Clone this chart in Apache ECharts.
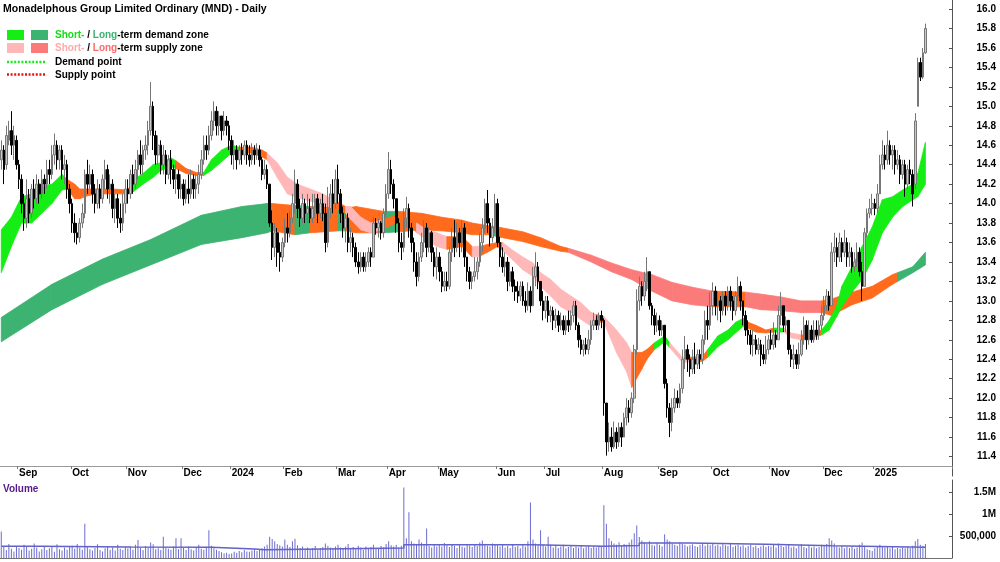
<!DOCTYPE html>
<html><head><meta charset="utf-8">
<script src="https://cdn.jsdelivr.net/npm/echarts/dist/echarts.min.js"></script>
<style>html,body{margin:0;padding:0;background:#fff}#c{width:1000px;height:562px}</style>
</head><body><div id="c"></div>
<script>
// ---------- DATA ----------
const monthLabels = ['', 'Sep','Oct','Nov','Dec','2024','Feb','Mar','Apr','May','Jun','Jul','Aug','Sep','Oct','Nov','Dec','2025'];
const monthCounts = [7,21,22,22,19,21,21,20,20,23,19,23,22,21,23,21,20,21];

// [open, close, low, high]
const candles = [
// Aug 2023
[14.45,14.55,14.35,14.65],[14.55,14.35,14.2,14.6],[14.4,14.7,14.35,14.8],[14.65,14.75,14.6,14.85],[14.75,14.6,14.5,14.95],[14.6,14.7,14.45,14.8],[14.65,14.4,14.35,14.7],
// Sep
[14.4,14.25,14.15,14.45],[14.25,14.0,13.9,14.3],[14.0,13.85,13.72,14.1],[13.85,14.05,13.75,14.25],[14.05,13.9,13.8,14.15],[13.9,14.15,13.85,14.2],[14.15,14.05,13.95,14.25],[14.05,14.2,14.0,14.3],[14.2,14.1,14.0,14.25],[14.1,14.25,14.05,14.35],[14.25,14.2,14.1,14.3],[14.2,14.35,14.15,14.45],[14.35,14.3,14.2,14.45],[14.3,14.5,14.25,14.6],[14.5,14.6,14.4,14.72],[14.6,14.45,14.35,14.65],[14.45,14.55,14.35,14.6],[14.55,14.35,14.25,14.6],[14.35,14.4,14.2,14.5],[14.4,14.15,14.05,14.45],[14.15,14.0,13.9,14.2],
// Oct
[14.0,13.8,13.7,14.05],[13.8,13.7,13.6,13.9],[13.7,13.65,13.58,13.8],[13.65,13.8,13.6,13.85],[13.8,13.9,13.75,14.0],[13.9,14.3,13.85,14.35],[14.3,14.2,14.1,14.45],[14.2,14.3,14.15,14.4],[14.3,14.1,14.0,14.35],[14.1,14.0,13.9,14.2],[14.0,14.15,13.95,14.25],[14.15,14.05,13.95,14.2],[14.05,14.25,14.0,14.3],[14.25,14.35,14.15,14.45],[14.35,14.15,14.05,14.4],[14.15,14.2,14.0,14.3],[14.2,13.95,13.85,14.25],[13.95,14.05,13.8,14.1],[14.05,13.85,13.75,14.1],[13.85,13.8,13.7,14.0],[13.8,14.0,13.72,14.1],[14.0,14.15,13.9,14.25],
// Nov
[14.15,14.1,14.0,14.25],[14.1,14.3,14.05,14.35],[14.3,14.2,14.1,14.4],[14.2,14.35,14.15,14.45],[14.35,14.5,14.25,14.55],[14.5,14.4,14.3,14.65],[14.4,14.55,14.3,14.6],[14.55,14.6,14.45,14.7],[14.6,14.75,14.5,14.85],[14.75,15.0,14.7,15.25],[15.0,14.7,14.55,15.05],[14.7,14.5,14.4,14.75],[14.5,14.6,14.4,14.7],[14.6,14.4,14.3,14.65],[14.4,14.5,14.3,14.6],[14.5,14.3,14.2,14.55],[14.3,14.45,14.25,14.5],[14.45,14.35,14.2,14.55],[14.35,14.25,14.15,14.4],[14.25,14.3,14.1,14.4],[14.3,14.15,14.05,14.35],[14.15,14.2,14.05,14.3],
// Dec
[14.2,14.05,13.98,14.25],[14.05,14.15,14.0,14.25],[14.15,14.1,14.0,14.3],[14.1,14.25,14.05,14.35],[14.25,14.15,14.05,14.3],[14.15,14.2,14.05,14.3],[14.2,14.3,14.1,14.4],[14.3,14.45,14.25,14.55],[14.45,14.6,14.4,14.7],[14.6,14.55,14.45,14.7],[14.55,14.7,14.5,14.8],[14.7,14.85,14.65,14.95],[14.85,14.95,14.75,15.05],[14.95,14.8,14.7,15.0],[14.8,14.9,14.7,14.95],[14.9,14.75,14.65,14.9],[14.75,14.85,14.7,14.95],[14.85,14.8,14.7,14.9],[14.8,14.65,14.55,14.85],
// Jan 2024
[14.65,14.5,14.4,14.7],[14.5,14.55,14.35,14.65],[14.55,14.45,14.35,14.6],[14.45,14.55,14.4,14.6],[14.55,14.5,14.4,14.62],[14.5,14.6,14.45,14.65],[14.6,14.5,14.4,14.65],[14.5,14.45,14.38,14.6],[14.45,14.55,14.4,14.62],[14.55,14.5,14.4,14.6],[14.5,14.55,14.45,14.62],[14.55,14.45,14.38,14.6],[14.45,14.3,14.24,14.48],[14.3,14.35,14.25,14.45],[14.35,14.2,14.15,14.4],[14.2,13.8,13.76,14.2],[13.8,13.55,13.42,13.93],[13.55,13.7,13.45,13.8],[13.7,13.5,13.35,13.75],[13.5,13.45,13.3,13.6],[13.45,13.6,13.4,13.65],
// Feb
[13.6,13.75,13.55,13.85],[13.75,13.7,13.6,13.9],[13.7,13.85,13.65,13.93],[13.85,14.0,13.8,14.1],[14.0,14.2,13.9,14.35],[14.2,13.95,13.85,14.25],[13.95,13.85,13.76,14.05],[13.85,14.0,13.8,14.1],[14.0,13.9,13.8,14.05],[13.9,13.95,13.8,14.1],[13.95,13.85,13.8,14.05],[13.85,13.95,13.8,14.1],[13.95,14.05,13.85,14.1],[14.05,13.9,13.8,14.1],[13.9,14.0,13.85,14.05],[14.0,13.9,13.82,14.1],[13.9,13.6,13.5,14.0],[13.6,13.95,13.55,14.17],[13.95,14.1,13.85,14.2],[14.1,14.0,13.9,14.25],[14.0,14.25,13.95,14.35],
// Mar
[14.25,14.1,14.0,14.4],[14.1,13.9,13.8,14.15],[13.9,13.75,13.65,13.97],[13.75,13.85,13.6,13.9],[13.85,13.6,13.5,13.9],[13.6,13.65,13.5,13.75],[13.65,13.55,13.45,13.7],[13.55,13.4,13.35,13.6],[13.4,13.35,13.28,13.5],[13.35,13.45,13.3,13.5],[13.45,13.35,13.3,13.5],[13.35,13.4,13.3,13.5],[13.4,13.5,13.35,13.55],[13.5,13.45,13.35,13.55],[13.45,13.8,13.45,13.86],[13.8,13.75,13.68,13.85],[13.75,13.8,13.65,13.85],[13.8,13.7,13.63,13.82],[13.7,13.9,13.65,13.95],[13.9,14.1,13.85,14.2],
// Apr
[14.1,14.35,14.05,14.53],[14.35,14.2,14.1,14.45],[14.2,14.05,13.95,14.25],[14.05,13.8,13.7,14.05],[13.8,13.6,13.5,13.85],[13.6,13.55,13.42,13.7],[13.55,13.85,13.5,13.95],[13.85,13.95,13.75,14.07],[13.95,13.75,13.65,14.0],[13.75,13.6,13.5,13.8],[13.6,13.4,13.3,13.65],[13.4,13.25,13.15,13.5],[13.25,13.45,13.2,13.5],[13.45,13.6,13.4,13.7],[13.6,13.75,13.5,13.83],[13.75,13.55,13.45,13.8],[13.55,13.7,13.5,13.75],[13.7,13.5,13.4,13.72],[13.5,13.35,13.25,13.55],[13.35,13.45,13.22,13.55],
// May
[13.45,13.3,13.2,13.5],[13.3,13.15,13.09,13.35],[13.15,13.2,13.1,13.3],[13.2,13.15,13.1,13.3],[13.15,13.5,13.12,13.55],[13.5,13.65,13.4,13.75],[13.65,13.55,13.45,13.83],[13.55,13.7,13.5,13.8],[13.7,13.6,13.45,13.75],[13.6,13.75,13.5,13.83],[13.75,13.45,13.35,13.8],[13.45,13.3,13.2,13.45],[13.3,13.2,13.12,13.35],[13.2,13.25,13.12,13.3],[13.25,13.3,13.2,13.45],[13.3,13.4,13.22,13.45],[13.4,13.6,13.35,13.7],[13.6,13.75,13.5,13.85],[13.75,14.0,13.7,14.05],[14.0,13.8,13.7,14.14],[13.8,13.65,13.56,13.85],[13.65,13.75,13.6,13.85],[13.75,14.0,13.7,14.1],
// Jun
[14.0,13.6,13.55,14.05],[13.6,13.45,13.35,13.66],[13.45,13.35,13.29,13.55],[13.35,13.4,13.25,13.5],[13.4,13.2,13.1,13.45],[13.2,13.3,13.15,13.4],[13.3,13.15,13.09,13.35],[13.15,13.1,13.0,13.22],[13.1,13.05,12.98,13.2],[13.05,13.15,13.0,13.2],[13.15,13.0,12.95,13.2],[13.0,12.95,12.88,13.1],[12.95,13.1,12.9,13.19],[13.1,12.95,12.88,13.15],[12.95,13.25,12.95,13.35],[13.25,13.35,13.15,13.5],[13.35,13.2,13.12,13.4],[13.2,13.0,12.95,13.2],[13.0,12.9,12.8,13.1],
// Jul
[12.9,13.0,12.82,13.05],[13.0,12.85,12.78,13.05],[12.85,12.9,12.78,12.95],[12.9,12.8,12.7,12.94],[12.8,12.85,12.72,12.92],[12.85,12.75,12.68,12.9],[12.75,12.8,12.7,12.88],[12.8,12.7,12.65,12.85],[12.7,12.8,12.65,12.85],[12.8,12.75,12.68,12.9],[12.75,12.85,12.7,12.9],[12.85,12.95,12.78,13.0],[12.95,12.75,12.7,13.0],[12.75,12.6,12.52,12.78],[12.6,12.5,12.45,12.65],[12.5,12.55,12.43,12.6],[12.55,12.5,12.45,12.62],[12.5,12.6,12.45,12.7],[12.6,12.75,12.55,12.8],[12.75,12.8,12.7,12.88],[12.8,12.75,12.7,12.85],[12.75,12.85,12.7,12.88],[12.85,12.8,12.72,12.9],
// Aug
[12.8,11.95,11.82,12.82],[11.95,11.55,11.41,11.95],[11.55,11.6,11.45,11.75],[11.6,11.5,11.45,11.7],[11.5,11.65,11.48,11.76],[11.65,11.55,11.48,11.7],[11.55,11.7,11.5,11.75],[11.7,11.6,11.5,11.75],[11.6,11.8,11.6,11.85],[11.8,11.9,11.72,12.0],[11.9,11.85,11.75,11.98],[11.85,12.0,11.8,12.06],[12.0,12.5,11.95,12.55],[12.5,13.0,12.45,13.12],[13.0,13.15,12.9,13.25],[13.15,13.05,12.95,13.2],[13.05,13.2,13.0,13.3],[13.2,13.3,13.1,13.45],[13.3,12.95,12.91,13.3],[12.95,12.85,12.75,12.98],[12.85,12.75,12.65,12.92],[12.75,12.8,12.68,12.88],
// Sep
[12.8,12.7,12.64,12.85],[12.7,12.75,12.64,12.8],[12.75,12.15,12.1,12.75],[12.15,11.9,11.8,12.2],[11.9,11.75,11.6,11.95],[11.75,11.9,11.66,12.0],[11.9,12.0,11.85,12.1],[12.0,11.95,11.9,12.08],[11.95,12.1,11.9,12.15],[12.1,12.4,12.05,12.5],[12.4,12.5,12.3,12.64],[12.5,12.4,12.27,12.55],[12.4,12.3,12.22,12.45],[12.3,12.4,12.25,12.5],[12.4,12.35,12.25,12.57],[12.35,12.45,12.3,12.5],[12.45,12.4,12.3,12.5],[12.4,12.6,12.35,12.65],[12.6,12.8,12.55,12.9],[12.8,12.75,12.6,12.95],[12.75,12.95,12.7,13.09],
// Oct
[12.95,13.1,12.85,13.19],[13.1,12.95,12.85,13.15],[12.95,13.0,12.8,13.1],[13.0,12.9,12.78,13.05],[12.9,13.05,12.85,13.1],[13.05,12.95,12.85,13.1],[12.95,13.1,12.9,13.15],[13.1,13.0,12.9,13.15],[13.0,12.9,12.8,13.05],[12.9,13.05,12.85,13.1],[13.05,13.15,13.0,13.25],[13.15,13.0,12.9,13.2],[13.0,12.85,12.75,13.0],[12.85,12.7,12.64,12.9],[12.7,12.65,12.55,12.8],[12.65,12.55,12.45,12.7],[12.55,12.6,12.43,12.7],[12.6,12.5,12.45,12.65],[12.5,12.55,12.45,12.62],[12.55,12.45,12.33,12.6],[12.45,12.4,12.35,12.55],[12.4,12.5,12.35,12.64],[12.5,12.6,12.45,12.65],
// Nov
[12.6,12.55,12.5,12.7],[12.55,12.65,12.5,12.78],[12.65,12.6,12.52,12.7],[12.6,12.85,12.6,12.95],[12.85,12.95,12.75,13.09],[12.95,12.75,12.68,12.95],[12.75,12.8,12.68,12.84],[12.8,12.5,12.45,12.8],[12.5,12.4,12.32,12.55],[12.4,12.45,12.3,12.55],[12.45,12.35,12.3,12.5],[12.35,12.45,12.3,12.57],[12.45,12.6,12.43,12.7],[12.6,12.75,12.55,12.84],[12.75,12.6,12.5,12.8],[12.6,12.7,12.55,12.8],[12.7,12.6,12.57,12.75],[12.6,12.7,12.57,12.8],[12.7,12.65,12.6,12.8],[12.65,12.75,12.6,12.8],[12.75,12.85,12.7,12.95],
// Dec
[12.85,12.95,12.8,13.05],[12.95,13.05,12.9,13.12],[13.05,12.95,12.9,13.1],[12.95,13.5,12.95,13.6],[13.5,13.55,13.4,13.7],[13.55,13.45,13.35,13.65],[13.45,13.6,13.4,13.7],[13.6,13.5,13.4,13.65],[13.5,13.6,13.45,13.73],[13.6,13.45,13.35,13.65],[13.45,13.5,13.35,13.6],[13.5,13.35,13.29,13.55],[13.35,13.4,13.3,13.5],[13.4,13.5,13.35,13.6],[13.5,13.3,13.25,13.55],[13.3,13.15,13.0,13.4],[13.15,13.7,13.15,13.75],[13.7,13.9,13.65,13.95],[13.9,13.95,13.85,14.05],[13.95,14.0,13.88,14.1],
// Jan 2025
[14.0,13.95,13.88,14.05],[13.95,14.1,13.9,14.2],[14.1,14.4,14.1,14.5],[14.4,14.5,14.35,14.65],[14.5,14.45,14.35,14.6],[14.45,14.6,14.4,14.75],[14.6,14.5,14.4,14.65],[14.5,14.55,14.35,14.6],[14.55,14.4,14.3,14.6],[14.4,14.45,14.35,14.55],[14.45,14.3,14.2,14.5],[14.3,14.4,14.25,14.45],[14.4,14.2,14.07,14.45],[14.2,14.35,14.15,14.4],[14.35,14.3,14.2,14.45],[14.3,14.1,13.97,14.35],[14.2,14.85,14.15,14.93],[15.0,15.45,15.0,15.5],[15.45,15.3,15.26,15.5],[15.3,15.55,15.28,15.6],[15.55,15.8,15.54,15.85]
];

// volume, thousands of shares
const volume = [
600,250,180,320,210,150,260,
230,190,300,260,170,210,330,240,150,200,280,180,220,260,140,310,200,170,240,190,260,
280,210,320,240,190,780,260,200,170,230,310,180,150,220,260,190,240,170,300,210,180,250,
220,260,190,300,410,230,180,270,240,350,310,200,220,180,485,240,210,190,260,450,200,450,
230,180,260,200,170,240,300,210,190,250,630,280,220,190,160,130,110,120,90,
100,140,120,160,130,180,150,140,170,200,160,190,220,260,300,485,430,380,320,290,260,
420,300,250,380,440,290,230,260,210,240,200,230,270,190,220,250,330,280,240,210,260,
300,240,210,260,320,230,250,200,280,240,190,260,220,250,300,230,210,270,240,320,
380,290,260,300,240,280,1600,450,1040,380,330,300,420,350,290,670,280,240,310,260,
300,260,340,290,250,310,270,230,290,260,240,320,280,250,300,270,350,400,310,280,260,330,300,
290,260,310,240,280,230,300,250,270,220,300,260,380,1260,420,330,290,630,300,
260,485,300,240,280,230,260,300,220,250,280,230,260,240,290,220,250,270,230,260,240,280,250,
1200,780,450,380,330,300,360,280,320,300,350,420,560,740,480,400,360,320,380,300,280,340,
300,260,540,420,380,330,300,280,350,320,300,260,290,310,270,250,300,330,280,310,290,
320,280,300,260,310,290,270,330,250,280,300,260,290,240,270,300,250,280,230,260,290,250,270,
260,300,240,330,280,250,270,300,240,260,220,280,310,250,230,270,240,260,220,250,300,
280,320,450,400,330,260,240,280,220,250,230,260,210,240,300,350,280,200,180,160,
220,250,300,270,240,260,220,250,200,230,210,240,220,260,230,280,380,430,300,280,320
];

// volume average, [bar index, thousands] (step)
const volumeAvg = [[0,265],[15,250],[51,243],[83,205],[100,190],[104,230],[159,300],[210,265],[238,285],[252,340],[272,315],[302,280],[328,243],[365,243]];

const D = 0, S = 1, N = 2; // demand, supply, neutral
// [bar index, lower, upper, state]
const shortBand = [
[0,13.29,13.73,D],[4,13.56,13.86,D],[8,13.8,14.07,D],[12,13.8,14.1,D],[16,13.9,14.18,D],[20,14.0,14.2,D],[24,14.14,14.3,D],[26,14.15,14.25,N],[29,14.05,14.2,N],[31,14.05,14.15,N],[34,14.08,14.15,N],[38,14.1,14.15,N],[44,14.1,14.15,N],[50,14.1,14.14,N],[52,14.12,14.24,D],[56,14.2,14.31,D],[60,14.27,14.4,D],[63,14.34,14.42,D],[67,14.38,14.47,D],[69,14.36,14.44,N],[73,14.31,14.36,N],[77,14.29,14.32,N],[80,14.29,14.32,D],[83,14.34,14.45,D],[87,14.43,14.55,D],[91,14.52,14.6,D],[94,14.52,14.58,N],[99,14.52,14.58,N],[103,14.48,14.55,N],[105,14.45,14.52,S],[109,14.27,14.42,S],[113,14.1,14.27,S],[117,14.06,14.2,S],[123,14.02,14.14,S],[127,13.97,14.1,S],[131,13.97,14.04,N],[136,13.9,13.97,S],[138,13.84,13.97,S],[142,13.73,13.86,S],[146,13.7,13.8,S],[150,13.73,13.83,N],[156,13.8,13.88,N],[162,13.8,13.88,N],[164,13.7,13.8,S],[168,13.63,13.73,S],[172,13.56,13.7,S],[176,13.53,13.66,N],[182,13.56,13.66,N],[186,13.45,13.56,S],[189,13.46,13.56,N],[192,13.5,13.58,N],[196,13.56,13.6,N],[198,13.52,13.6,S],[202,13.42,13.52,S],[206,13.32,13.45,S],[210,13.25,13.39,S],[213,13.15,13.29,S],[217,13.05,13.22,S],[221,12.94,13.12,S],[225,12.88,13.05,S],[229,12.81,12.98,S],[233,12.74,12.88,S],[235,12.78,12.86,N],[238,12.78,12.84,S],[243,12.47,12.7,S],[247,12.27,12.57,S],[249,12.11,12.47,N],[253,12.3,12.47,N],[255,12.4,12.5,N],[258,12.5,12.57,D],[262,12.58,12.64,D],[264,12.52,12.57,S],[269,12.37,12.42,S],[272,12.37,12.42,N],[277,12.38,12.43,N],[279,12.42,12.5,D],[283,12.53,12.64,D],[287,12.6,12.7,D],[290,12.67,12.78,D],[293,12.74,12.82,D],[295,12.72,12.78,N],[298,12.68,12.75,N],[302,12.67,12.7,N],[305,12.68,12.72,D],[309,12.68,12.72,S],[312,12.62,12.67,S],[316,12.6,12.65,N],[320,12.62,12.65,N],[324,12.65,12.7,D],[327,12.7,12.8,D],[330,12.84,12.95,D],[332,12.94,13.15,D],[336,13.09,13.35,D],[340,13.22,13.56,D],[344,13.42,13.76,D],[348,13.7,14.04,D],[352,13.86,14.07,D],[356,13.97,14.14,D],[360,14.04,14.2,D],[362,14.07,14.31,D],[365,14.2,14.63,D]
];
const longBand = [
[0,12.58,12.83,D],[20,12.91,13.17,D],[40,13.17,13.43,D],[59,13.37,13.63,D],[79,13.58,13.88,D],[95,13.65,13.97,D],[105,13.7,14.0,D],[107,13.72,14.0,N],[116,13.68,13.98,D],[122,13.7,13.97,N],[133,13.72,13.98,D],[136,13.72,13.95,N],[140,13.7,13.97,N],[151,13.7,13.92,D],[157,13.71,13.92,N],[166,13.73,13.9,N],[174,13.72,13.86,N],[182,13.7,13.83,N],[186,13.68,13.8,N],[193,13.68,13.77,D],[196,13.66,13.76,N],[206,13.61,13.71,N],[213,13.56,13.65,N],[221,13.51,13.56,N],[224,13.5,13.54,S],[233,13.4,13.47,S],[241,13.3,13.39,S],[249,13.22,13.32,S],[257,13.1,13.27,S],[265,13.0,13.19,S],[273,12.96,13.14,S],[281,12.94,13.1,N],[294,12.94,13.09,S],[300,12.91,13.07,S],[308,12.9,13.04,S],[316,12.88,13.0,S],[324,12.88,13.0,N],[328,12.85,13.02,N],[336,12.96,13.09,N],[344,13.03,13.15,N],[352,13.17,13.27,N],[354,13.2,13.29,D],[360,13.29,13.35,D],[365,13.37,13.5,D]
];

// ---------- BUILD ----------
const PAD = 10;
const cats = [], labelAt = [];
monthCounts.forEach(function (n, m) {
  for (let d = 0; d < n; d++) { cats.push('m' + m + 'd' + d); labelAt.push(d === 0 ? monthLabels[m] : ''); }
});
for (let k = 0; k < PAD; k++) { cats.push('pad' + k); labelAt.push(''); }
const isMonthStart = function (idx) { return labelAt[idx] !== ''; };

function segs(band) {
  const out = [];
  for (let k = 0; k < band.length - 1; k++) {
    const a = band[k], b = band[k + 1];
    out.push([a[0], a[1], a[2], b[0], b[1], b[2], a[3]]);
  }
  return out;
}
function bandRender(colors) {
  return function (params, api) {
    const p1 = api.coord([api.value(0), api.value(2)]);
    const p2 = api.coord([api.value(3), api.value(5)]);
    const p3 = api.coord([api.value(3), api.value(4)]);
    const p4 = api.coord([api.value(0), api.value(1)]);
    const c = colors[api.value(6)];
    return { type: 'polygon', shape: { points: [p1, p2, p3, p4] }, style: { fill: c, stroke: c, lineWidth: 0.8 } };
  };
}
const ORANGE = '#ff6a1c';
const shortColors = ['#14ee14', '#ffb7b7', ORANGE];
const longColors = ['#3cb371', '#fb7b7b', ORANGE];

const FONT = 'Arial, "Liberation Sans", sans-serif';
const GW = 952;
const hidden = { axisLine: { show: false }, axisTick: { show: false }, axisLabel: { show: false }, splitLine: { show: false } };
const lbl = { fontFamily: FONT, fontWeight: 'bold', fontSize: 10, color: '#000' };

const chart = echarts.init(document.getElementById('c'), null, { renderer: 'canvas' });
chart.setOption({
  animation: false,
  backgroundColor: '#ffffff',
  grid: [
    { left: 0, width: GW, top: 9 - 0.2 * 97.3, height: 5.0 * 97.3, outerBoundsMode: 'none' },
    { left: 0, width: GW, top: 465, height: 1, outerBoundsMode: 'none' },
    { left: 0, width: GW, top: 480, height: 78, outerBoundsMode: 'none' }
  ],
  xAxis: [
    Object.assign({ type: 'category', gridIndex: 0, data: cats, boundaryGap: true }, hidden),
    { type: 'category', gridIndex: 1, data: cats, boundaryGap: true, position: 'bottom',
      axisLine: { show: true, lineStyle: { color: '#9a9a9a', width: 1 } },
      axisTick: { show: true, length: 3, interval: isMonthStart, lineStyle: { color: '#777' } },
      axisLabel: Object.assign({ show: true, interval: isMonthStart, margin: 2, align: 'left',
        formatter: function (v, i) { return labelAt[i]; } }, lbl),
      splitLine: { show: false } },
    { type: 'category', gridIndex: 2, data: cats, boundaryGap: true, position: 'top',
      axisLine: { show: true, lineStyle: { color: '#707070', width: 1 } },
      axisTick: { show: false }, axisLabel: { show: false }, splitLine: { show: false } }
  ],
  yAxis: [
    { type: 'value', gridIndex: 0, position: 'right', min: 11.2, max: 16.2, interval: 0.2,
      axisLine: { show: true, lineStyle: { color: '#555', width: 1 } },
      axisTick: { show: true, inside: true, length: 3, lineStyle: { color: '#555' } },
      axisLabel: Object.assign({ showMinLabel: false, showMaxLabel: false, align: 'right', margin: 44,
        formatter: function (v) { return v.toFixed(1); } }, lbl),
      splitLine: { show: false } },
    Object.assign({ type: 'value', gridIndex: 1, min: 0, max: 1 }, hidden),
    { type: 'value', gridIndex: 2, position: 'right', min: 0, max: 1772.7, interval: 500,
      axisLine: { show: true, lineStyle: { color: '#555', width: 1 } },
      axisTick: { show: true, inside: true, length: 3, lineStyle: { color: '#555' } },
      axisLabel: Object.assign({ showMinLabel: false, showMaxLabel: false, align: 'right', margin: 44,
        formatter: function (v) { return v === 1500 ? '1.5M' : v === 1000 ? '1M' : v === 500 ? '500,000' : ''; } }, lbl),
      splitLine: { show: false } }
  ],
  series: [
    { type: 'custom', name: 'long', xAxisIndex: 0, yAxisIndex: 0, z: 1,
      renderItem: bandRender(longColors), data: segs(longBand),
      encode: { x: 0, y: [1, 2] } },
    { type: 'custom', name: 'short', xAxisIndex: 0, yAxisIndex: 0, z: 2,
      renderItem: bandRender(shortColors), data: segs(shortBand),
      encode: { x: 0, y: [1, 2] } },
    { type: 'candlestick', name: 'MND', xAxisIndex: 0, yAxisIndex: 0, z: 3, data: candles,
      barWidth: '80%',
      itemStyle: { color: '#c8c8c8', color0: '#000000', borderColor: '#777777', borderColor0: '#000000', borderWidth: 1 } },
    { type: 'bar', name: 'Volume', xAxisIndex: 2, yAxisIndex: 2, data: volume, barWidth: 1,
      itemStyle: { color: '#6c6cd2' } },
    { type: 'line', name: 'VolAvg', xAxisIndex: 2, yAxisIndex: 2, data: volumeAvg, step: 'end',
      symbol: 'none', lineStyle: { color: '#6262c8', width: 1.5 }, z: 3 }
  ],
  graphic: [
    { type: 'text', x: 3, y: 9, style: { text: 'Monadelphous Group Limited Ordinary (MND) - Daily', font: 'bold 10.5px ' + FONT, fill: '#000', verticalAlign: 'middle' } },
    { type: 'rect', shape: { x: 7, y: 30, width: 17, height: 10 }, style: { fill: '#14ee14' } },
    { type: 'rect', shape: { x: 31, y: 30, width: 17, height: 10 }, style: { fill: '#3cb371' } },
    { type: 'rect', shape: { x: 7, y: 43, width: 17, height: 10 }, style: { fill: '#ffb7b7' } },
    { type: 'rect', shape: { x: 31, y: 43, width: 17, height: 10 }, style: { fill: '#fb7b7b' } },
    { type: 'line', shape: { x1: 7, y1: 62, x2: 45, y2: 62 }, style: { stroke: '#14ee14', lineWidth: 2.5, lineDash: [2, 1.6] } },
    { type: 'line', shape: { x1: 7, y1: 74.5, x2: 45, y2: 74.5 }, style: { stroke: '#ee1111', lineWidth: 2.5, lineDash: [2, 1.6] } },
    { type: 'text', x: 55, y: 35, style: { text: '{a|Short-} / {b|Long}-term demand zone', font: 'bold 10px ' + FONT, fill: '#000', verticalAlign: 'middle',
      rich: { a: { fill: '#14dd14', font: 'bold 10px ' + FONT }, b: { fill: '#3cb371', font: 'bold 10px ' + FONT } } } },
    { type: 'text', x: 55, y: 48, style: { text: '{a|Short-} / {b|Long}-term supply zone', font: 'bold 10px ' + FONT, fill: '#000', verticalAlign: 'middle',
      rich: { a: { fill: '#ffaaaa', font: 'bold 10px ' + FONT }, b: { fill: '#fb6b6b', font: 'bold 10px ' + FONT } } } },
    { type: 'text', x: 55, y: 62, style: { text: 'Demand point', font: 'bold 10px ' + FONT, fill: '#000', verticalAlign: 'middle' } },
    { type: 'text', x: 55, y: 75, style: { text: 'Supply point', font: 'bold 10px ' + FONT, fill: '#000', verticalAlign: 'middle' } },
    { type: 'text', x: 3, y: 489, style: { text: 'Volume', font: 'bold 10px ' + FONT, fill: '#551a8b', verticalAlign: 'middle' } }
  ]
});
</script>
</body></html>
